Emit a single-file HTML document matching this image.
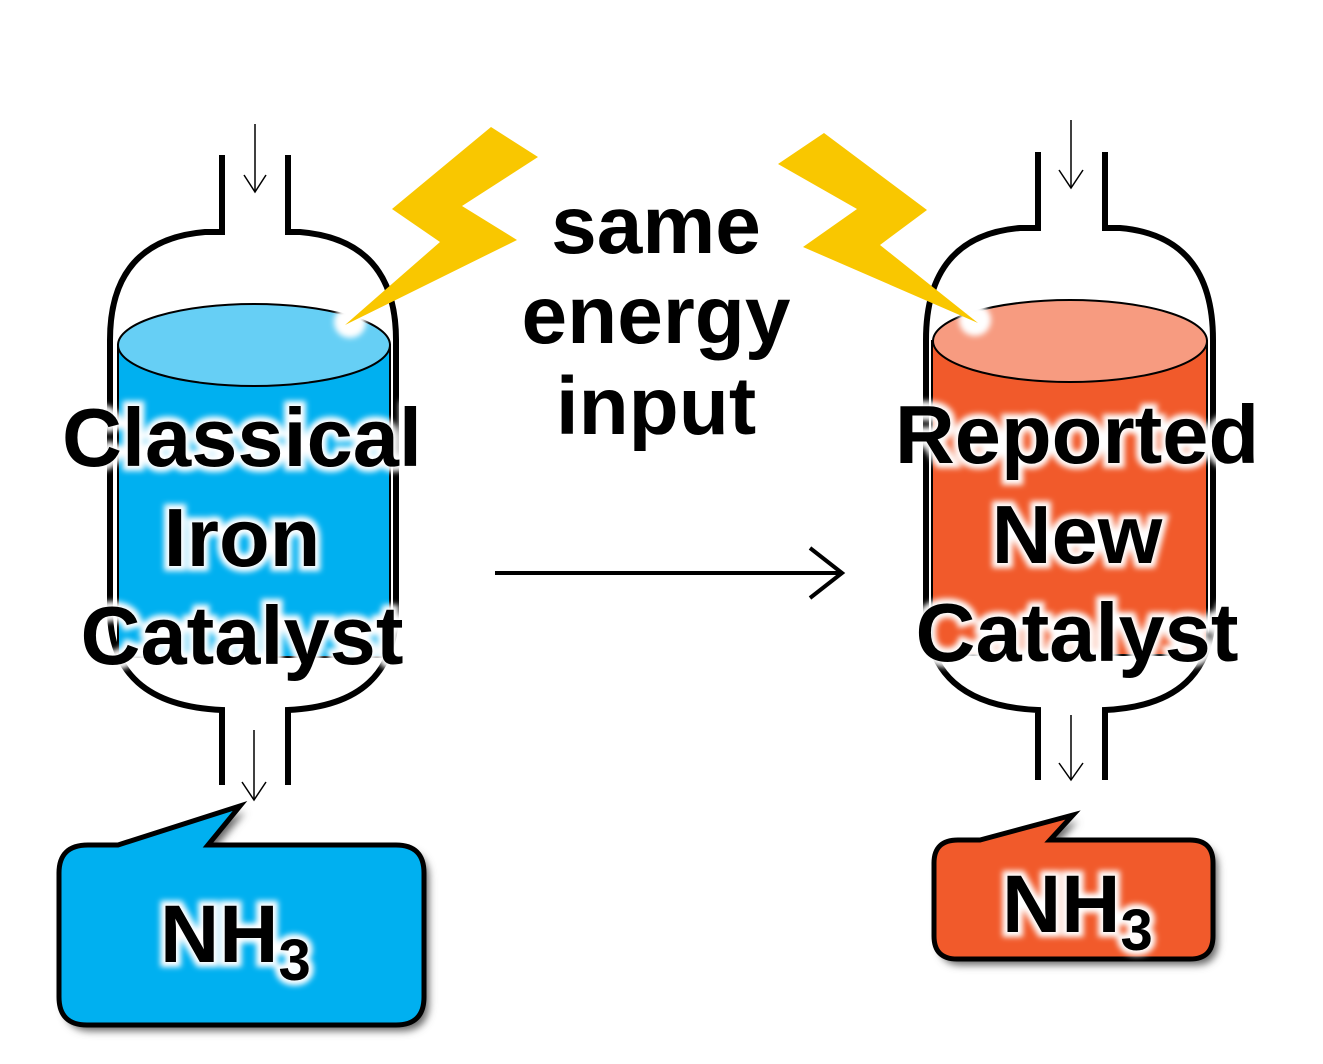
<!DOCTYPE html>
<html><head><meta charset="utf-8"><style>
html,body{margin:0;padding:0;background:#fff;}
svg{display:block;}
text{font-family:"Liberation Sans",sans-serif;font-weight:bold;}
</style></head><body>
<svg width="1323" height="1064" viewBox="0 0 1323 1064" xmlns="http://www.w3.org/2000/svg">
<defs>
<filter id="glow" x="-20%" y="-20%" width="140%" height="140%"><feGaussianBlur stdDeviation="3"/></filter>
<filter id="sh" x="-10%" y="-10%" width="130%" height="130%"><feGaussianBlur stdDeviation="4"/></filter>
</defs>
<!-- Left reactor -->
<path d="M222,155 V232 H205 Q110,240 110,340 V610 Q110,705 222,710 V785" fill="none" stroke="#000" stroke-width="6"/>
<path d="M288,155 V232 H300 Q396,240 396,340 V610 Q396,705 288,710 V785" fill="none" stroke="#000" stroke-width="6"/>
<rect x="118" y="345" width="272" height="312" fill="#00b0f0" stroke="#000" stroke-width="2"/>
<ellipse cx="254" cy="345" rx="136" ry="41" fill="#66cff5" stroke="#000" stroke-width="2"/>
<line x1="255" y1="124" x2="255" y2="192" stroke="#000" stroke-width="1.5"/>
<polyline points="244,175 255,192 266,175" fill="none" stroke="#000" stroke-width="1.5"/>
<line x1="254" y1="730" x2="254" y2="800" stroke="#000" stroke-width="1.5"/>
<polyline points="242,782 254,800 266,782" fill="none" stroke="#000" stroke-width="1.5"/>
<!-- Right reactor -->
<path d="M1038,152 V228 H1020 Q926,236 926,340 V610 Q926,705 1038,710 V780" fill="none" stroke="#000" stroke-width="6"/>
<path d="M1105,152 V228 H1120 Q1213,236 1213,340 V610 Q1213,705 1105,710 V780" fill="none" stroke="#000" stroke-width="6"/>
<rect x="932" y="341" width="275" height="314" fill="#f15a2b" stroke="#000" stroke-width="2"/>
<ellipse cx="1070" cy="341" rx="137" ry="41" fill="#f79b80" stroke="#000" stroke-width="2"/>
<line x1="1071" y1="120" x2="1071" y2="188" stroke="#000" stroke-width="1.5"/>
<polyline points="1059,170 1071,188 1083,170" fill="none" stroke="#000" stroke-width="1.5"/>
<line x1="1071" y1="715" x2="1071" y2="780" stroke="#000" stroke-width="1.5"/>
<polyline points="1059,763 1071,780 1083,763" fill="none" stroke="#000" stroke-width="1.5"/>
<!-- lightning -->
<circle cx="350" cy="322" r="16" fill="#fff" filter="url(#glow)"/>
<circle cx="975" cy="320" r="16" fill="#fff" filter="url(#glow)"/>
<polygon points="491,127 538,157 462,206 517,240 345,325 440,242 392,209" fill="#f9c700"/>
<polygon points="824,133 927,210 880,245 978,323 803,247 857,209 778,164" fill="#f9c700"/>
<!-- arrow -->
<line x1="495" y1="573" x2="842" y2="573" stroke="#000" stroke-width="4"/>
<polyline points="810,548 842,573 810,598" fill="none" stroke="#000" stroke-width="4"/>
<!-- center text -->
<g font-size="82" text-anchor="middle" fill="#000">
<text x="656" y="253">same</text>
<text x="656" y="343">energy</text>
<text x="656" y="434">input</text>
</g>
<!-- labels -->
<g font-size="83" text-anchor="middle">
<g stroke="#fff" stroke-width="10" fill="#fff" filter="url(#glow)">
<text x="242" y="466">Classical</text><text x="242" y="566">Iron</text><text x="242" y="664">Catalyst</text>
<text x="1077" y="463">Reported</text><text x="1077" y="563">New</text><text x="1077" y="661">Catalyst</text>
</g>
<g fill="#000">
<text x="242" y="466">Classical</text><text x="242" y="566">Iron</text><text x="242" y="664">Catalyst</text>
<text x="1077" y="463">Reported</text><text x="1077" y="563">New</text><text x="1077" y="661">Catalyst</text>
</g>
</g>
<!-- NH3 boxes -->
<path d="M88,845 H118 L240,806 L208,845 H396 Q424,845 424,873 V997 Q424,1025 396,1025 H87 Q59,1025 59,997 V873 Q59,845 88,845 Z" fill="#666" filter="url(#sh)" transform="translate(5,6)"/>
<path d="M88,845 H118 L240,806 L208,845 H396 Q424,845 424,873 V997 Q424,1025 396,1025 H87 Q59,1025 59,997 V873 Q59,845 88,845 Z" fill="#00b0f0" stroke="#000" stroke-width="5"/>
<path d="M958,840 H980 L1073,815 L1050,840 H1190 Q1213,840 1213,863 V936 Q1213,959 1190,959 H957 Q934,959 934,936 V863 Q934,840 958,840 Z" fill="#666" filter="url(#sh)" transform="translate(5,6)"/>
<path d="M958,840 H980 L1073,815 L1050,840 H1190 Q1213,840 1213,863 V936 Q1213,959 1190,959 H957 Q934,959 934,936 V863 Q934,840 958,840 Z" fill="#f15a2b" stroke="#000" stroke-width="5"/>
<g font-size="82">
<g stroke="#fff" stroke-width="10" fill="#fff" filter="url(#glow)">
<text x="160" y="962">NH<tspan font-size="58" dy="18">3</tspan></text>
<text x="1002" y="932">NH<tspan font-size="58" dy="18">3</tspan></text>
</g>
<g fill="#000">
<text x="160" y="962">NH<tspan font-size="58" dy="18">3</tspan></text>
<text x="1002" y="932">NH<tspan font-size="58" dy="18">3</tspan></text>
</g>
</g>
</svg>
</body></html>
